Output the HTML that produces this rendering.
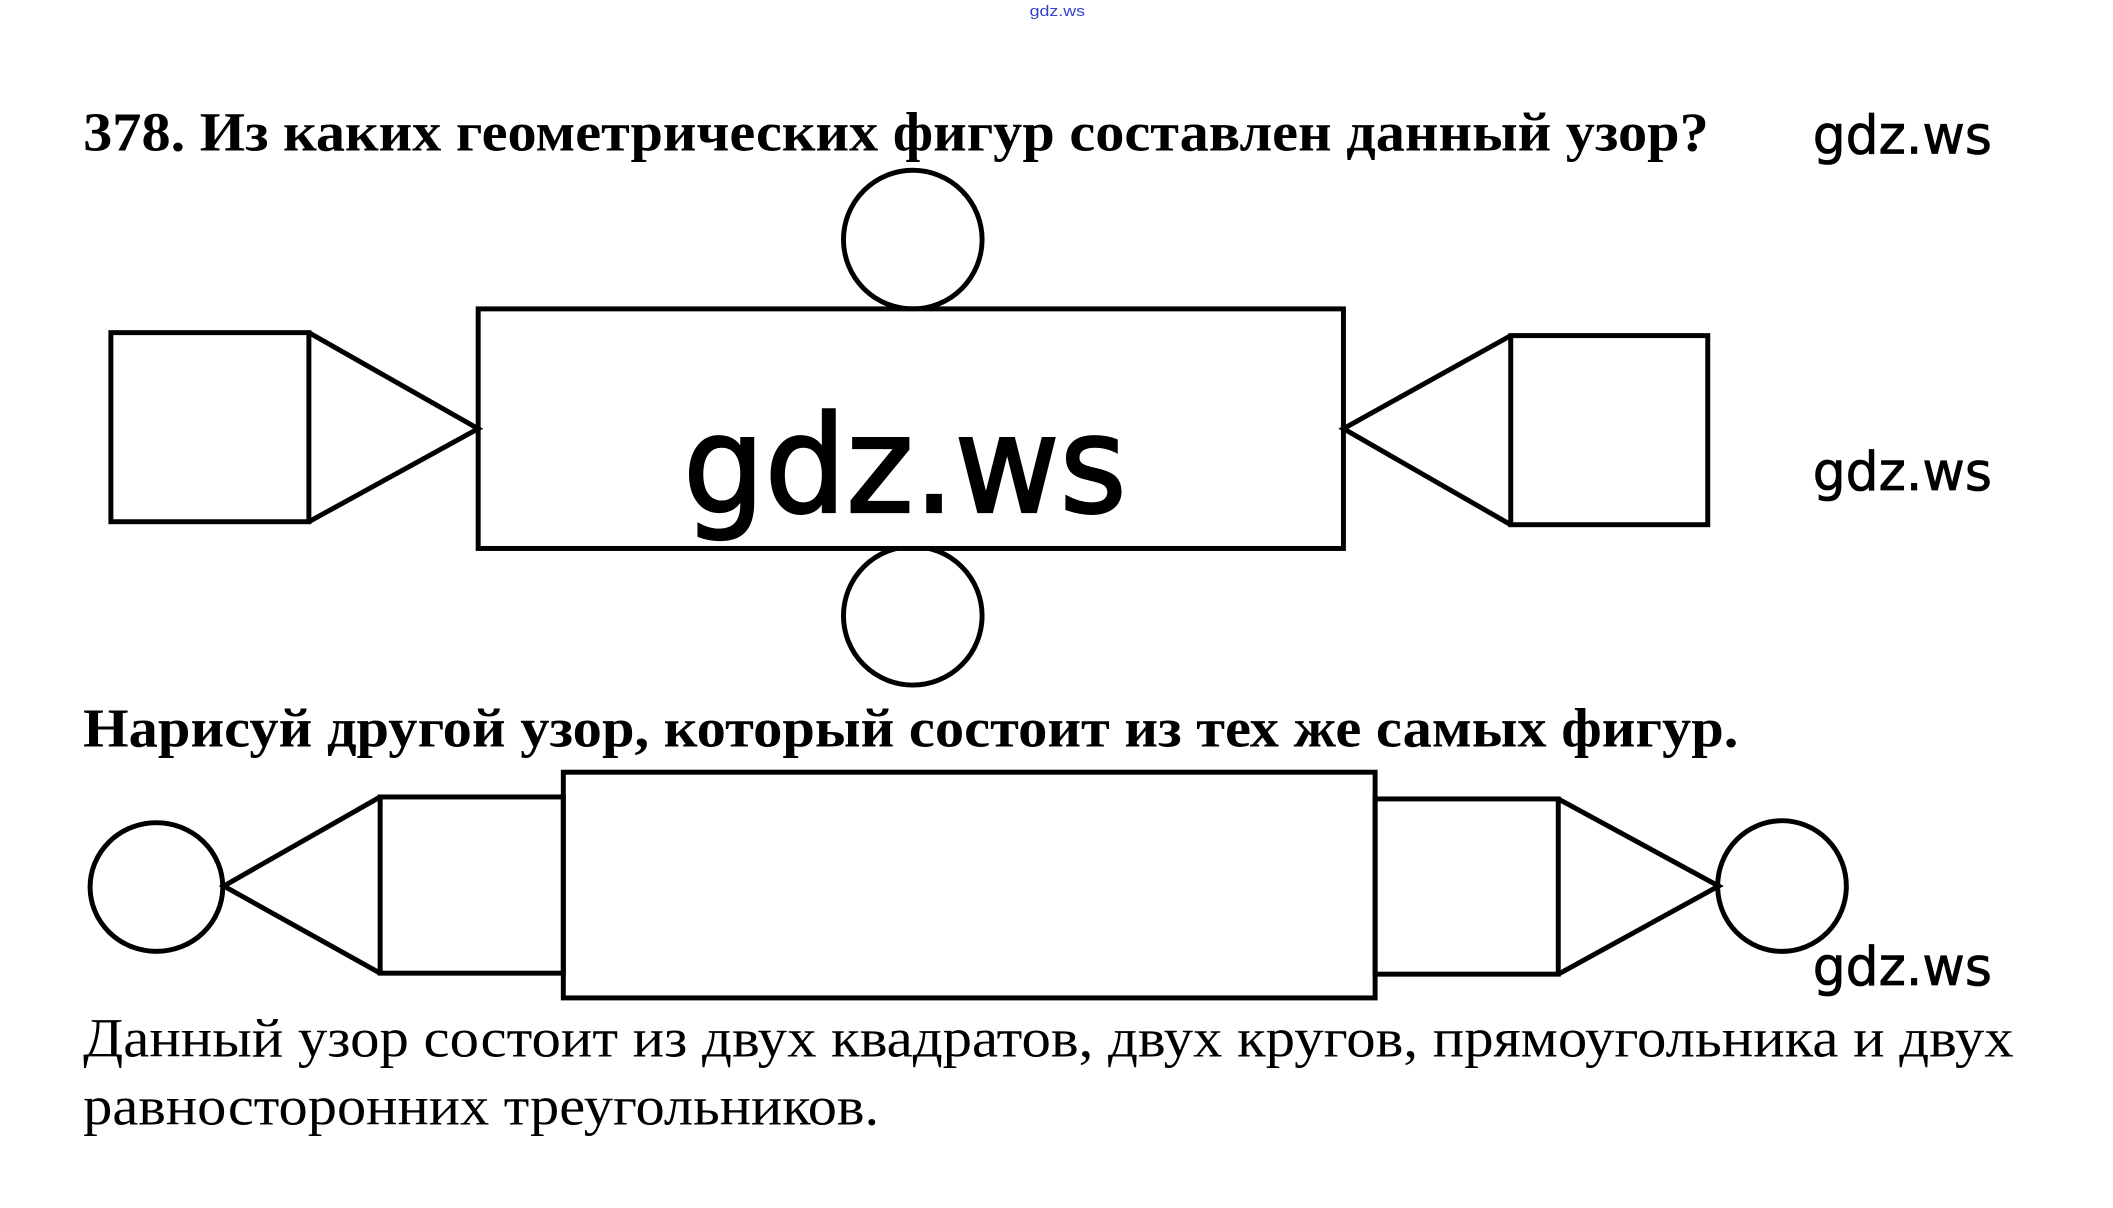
<!DOCTYPE html>
<html><head><meta charset="utf-8"><style>
html,body{margin:0;padding:0;background:#fff;}
svg{display:block;}
</style></head><body>
<svg width="2113" height="1208" viewBox="0 0 2113 1208" xmlns="http://www.w3.org/2000/svg">
<rect width="2113" height="1208" fill="#fff"/>
<g transform="scale(0.99)">
<text x="1040" y="16" font-family="Liberation Sans, sans-serif" font-size="15" fill="#3344cc" textLength="56" lengthAdjust="spacingAndGlyphs">gdz.ws</text>
<text x="84" y="152" font-family="Liberation Serif, DejaVu Serif, serif" font-weight="bold" font-size="56" textLength="1642" lengthAdjust="spacingAndGlyphs">378. Из каких геометрических фигур составлен данный узор?</text>
<g font-family="DejaVu Sans, Liberation Sans, sans-serif" font-size="54" fill="#000" stroke="#000" stroke-width="0.8">
<text x="1831" y="155" textLength="181" lengthAdjust="spacingAndGlyphs">gdz.ws</text>
<text x="1831" y="495" textLength="181" lengthAdjust="spacingAndGlyphs">gdz.ws</text>
<text x="1831" y="995" textLength="181" lengthAdjust="spacingAndGlyphs">gdz.ws</text>
</g>
<g fill="none" stroke="#000" stroke-width="5">
<circle cx="922" cy="242" r="70"/>
<circle cx="922" cy="622" r="70"/>
<rect x="483" y="312" width="874" height="242" fill="#fff"/>
<rect x="112" y="336" width="200" height="191"/>
<polyline points="312,336 483,433 312,527"/>
<rect x="1526" y="339" width="199" height="191"/>
<polyline points="1526,339 1357,433 1526,530"/>
</g>
<text x="690" y="517" font-family="DejaVu Sans, Liberation Sans, sans-serif" font-size="136" fill="#000" stroke="#000" stroke-width="2.5" textLength="448" lengthAdjust="spacingAndGlyphs">gdz.ws</text>
<text x="84" y="754" font-family="Liberation Serif, DejaVu Serif, serif" font-weight="bold" font-size="56" textLength="1672" lengthAdjust="spacingAndGlyphs">Нарисуй другой узор, который состоит из тех же самых фигур.</text>
<g fill="none" stroke="#000" stroke-width="5">
<ellipse cx="158" cy="896" rx="67" ry="65"/>
<polyline points="384,805 226,895 384,983"/>
<rect x="384" y="805" width="185" height="178"/>
<rect x="569" y="780" width="820" height="228"/>
<rect x="1389" y="807" width="185" height="177"/>
<polyline points="1574,807 1736,895 1574,984"/>
<ellipse cx="1800" cy="895" rx="65" ry="66"/>
</g>
<g font-family="Liberation Serif, DejaVu Serif, serif" font-size="56">
<text x="84" y="1067" textLength="1950" lengthAdjust="spacingAndGlyphs">Данный узор состоит из двух квадратов, двух кругов, прямоугольника и двух</text>
<text x="84" y="1136" textLength="804" lengthAdjust="spacingAndGlyphs">равносторонних треугольников.</text>
</g>
</g>
</svg>
</body></html>
